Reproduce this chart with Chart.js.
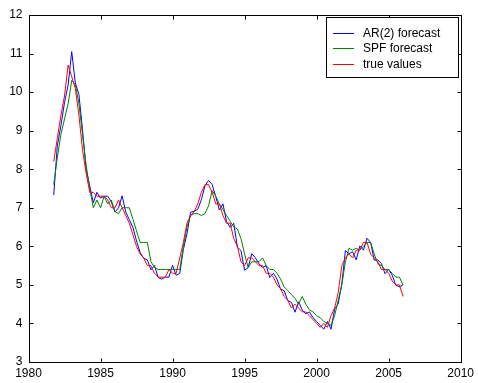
<!DOCTYPE html>
<html>
<head>
<meta charset="utf-8">
<script src="https://cdn.jsdelivr.net/npm/chart.js@4"></script>
<style>
  html, body { margin: 0; padding: 0; background: #fff; }
</style>
</head>
<body>
<canvas id="unempChart" width="478" height="383"></canvas>
<script>
// quarterly series, first point is 1981 Q4
const firstQuarter = 1981.75;

const trueValues = [
  8.2, 8.8, 9.4, 9.9, 10.7, 10.4, 10.1, 9.4, 8.5, 7.9, 7.4, 7.4, 7.3,
  7.3, 7.3, 7.2, 7.0, 7.0, 7.2, 7.0, 6.8, 6.6, 6.3, 6.0, 5.8,
  5.7, 5.5, 5.5, 5.3, 5.2, 5.2, 5.2, 5.4, 5.3, 5.3, 5.7, 6.1,
  6.6, 6.8, 6.9, 7.1, 7.4, 7.6, 7.6, 7.4, 7.1, 7.1, 6.8, 6.6,
  6.6, 6.2, 6.0, 5.6, 5.5, 5.7, 5.7, 5.6, 5.5, 5.5, 5.3, 5.3,
  5.2, 5.0, 4.9, 4.7, 4.6, 4.4, 4.5, 4.4, 4.3, 4.3, 4.2, 4.1,
  4.0, 3.9, 4.0, 3.9, 4.2, 4.4, 4.8, 5.5, 5.7, 5.8, 5.7, 5.9,
  5.9, 6.1, 6.1, 5.8, 5.7, 5.6, 5.4, 5.4, 5.3, 5.1, 5.0, 5.0, 4.7
];

const arForecast = [
  7.33, 8.6, 9.13, 9.73, 10.18, 11.05, 10.24, 9.94, 9.02, 8.0, 7.57, 7.13, 7.4,
  7.25, 7.3, 7.3, 7.15, 6.89, 7.0, 7.31, 6.89, 6.69, 6.49, 6.14, 5.84,
  5.69, 5.65, 5.39, 5.5, 5.19, 5.15, 5.2, 5.2, 5.51, 5.25, 5.3, 5.92,
  6.32, 6.88, 6.91, 6.96, 7.21, 7.57, 7.71, 7.6, 7.29, 6.94, 7.1, 6.64,
  6.49, 6.6, 5.98, 5.89, 5.38, 5.45, 5.81, 5.7, 5.55, 5.45, 5.5, 5.19,
  5.3, 5.15, 4.89, 4.85, 4.59, 4.55, 4.29, 4.56, 4.35, 4.25, 4.3, 4.15,
  4.05, 3.95, 3.85, 4.05, 3.85, 4.37, 4.51, 5.02, 5.89, 5.81, 5.86, 5.65,
  6.01, 5.9, 6.21, 6.1, 5.64, 5.65, 5.55, 5.29, 5.4, 5.25, 4.99, 4.95, 5.0
];

const spfForecast = [
  7.6, 8.3, 8.9, 9.3, 9.7, 10.3, 10.2, 9.7, 8.9, 8.1, 7.5, 7.0, 7.2,
  7.0, 7.3, 7.1, 7.2, 6.9, 6.85, 7.0, 7.0, 7.0, 6.7, 6.4, 6.1,
  6.1, 6.1, 5.6, 5.45, 5.4, 5.4, 5.4, 5.4, 5.4, 5.4, 5.4, 6.0,
  6.5, 6.8, 6.85, 6.85, 6.8, 6.85, 7.05, 7.45, 7.3, 7.1, 6.95, 6.8,
  6.65, 6.5, 6.45, 6.2, 5.8, 5.45, 5.6, 5.6, 5.6, 5.7, 5.5, 5.4,
  5.4, 5.3, 5.15, 4.95, 4.85, 4.75, 4.65, 4.5, 4.7, 4.5, 4.35, 4.3,
  4.2, 4.15, 4.05, 4.0, 3.95, 4.2, 4.6, 5.0, 5.6, 5.95, 5.9, 5.95,
  5.9, 6.0, 6.1, 6.1, 5.8, 5.55, 5.5, 5.4, 5.4, 5.3, 5.2, 5.2, 5.0
];

const xTickValues = [1980, 1985, 1990, 1995, 2000, 2005, 2010];
const yTickValues = [3, 4, 5, 6, 7, 8, 9, 10, 11, 12];

const seriesNames = ['AR(2) forecast', 'SPF forecast', 'true values'];
const seriesColors = ['#0000ff', '#008000', '#ff0000'];

function toPoints(vals) {
  return vals.map((v, i) => ({ x: firstQuarter + i / 4, y: v }));
}

const FAMILY = '"Liberation Sans", Arial, sans-serif';

// matlab style box, inward ticks and legend
const matlabAxes = {
  id: 'matlabAxes',
  afterDraw(chart) {
    const ctx = chart.ctx;
    const a = chart.chartArea;
    const L = Math.round(a.left) + 0.5, R = Math.round(a.right) + 0.5;
    const T = Math.round(a.top) + 0.5, B = Math.round(a.bottom) + 0.5;
    ctx.save();
    ctx.strokeStyle = '#000';
    ctx.lineWidth = 1;
    ctx.strokeRect(L, T, R - L, B - T);
    ctx.beginPath();
    chart.scales.x.ticks.forEach(t => {
      const px = Math.round(chart.scales.x.getPixelForValue(t.value)) + 0.5;
      ctx.moveTo(px, B); ctx.lineTo(px, B - 4);
      ctx.moveTo(px, T); ctx.lineTo(px, T + 4);
    });
    chart.scales.y.ticks.forEach(t => {
      const py = Math.round(chart.scales.y.getPixelForValue(t.value)) + 0.5;
      ctx.moveTo(L, py); ctx.lineTo(L + 4, py);
      ctx.moveTo(R, py); ctx.lineTo(R - 4, py);
    });
    ctx.stroke();

    // legend box, top right
    const lx = 326.5, ly = 17.5, lw = 132, lh = 60;
    ctx.fillStyle = '#fff';
    ctx.fillRect(lx, ly, lw, lh);
    ctx.strokeRect(lx, ly, lw, lh);
    ctx.font = '12px ' + FAMILY;
    ctx.textBaseline = 'middle';
    seriesNames.forEach((name, i) => {
      const y = Math.round(ly + 15 + i * 15.7) + 0.5;
      ctx.strokeStyle = seriesColors[i];
      ctx.beginPath();
      ctx.moveTo(333, y); ctx.lineTo(354, y);
      ctx.stroke();
      ctx.fillStyle = '#000';
      ctx.fillText(name, 363, y);
    });
    ctx.restore();
  }
};

const ctx = document.getElementById('unempChart');

new Chart(ctx, {
  type: 'line',
  data: {
    datasets: [
      { label: seriesNames[0], data: toPoints(arForecast), borderColor: seriesColors[0], order: 3 },
      { label: seriesNames[1], data: toPoints(spfForecast), borderColor: seriesColors[1], order: 2 },
      { label: seriesNames[2], data: toPoints(trueValues), borderColor: seriesColors[2], order: 1 }
    ]
  },
  options: {
    responsive: false,
    animation: false,
    datasets: {
      line: { borderWidth: 1, pointRadius: 0, tension: 0, fill: false }
    },
    layout: { padding: { top: 15, right: 13, left: 0, bottom: 0 } },
    plugins: {
      legend: { display: false },
      tooltip: { enabled: false }
    },
    scales: {
      x: {
        type: 'linear',
        min: 1980,
        max: 2010,
        afterBuildTicks: s => { s.ticks = xTickValues.map(v => ({ value: v })); },
        afterFit: s => { s.height = 21; },
        grid: { display: false, drawTicks: false },
        border: { display: false },
        ticks: {
          color: '#000',
          font: { family: FAMILY, size: 12 },
          padding: 4,
          maxRotation: 0,
          autoSkip: false,
          callback: v => String(v)
        }
      },
      y: {
        min: 3,
        max: 12,
        afterBuildTicks: s => { s.ticks = yTickValues.map(v => ({ value: v })); },
        afterFit: s => { s.width = 28.5; },
        grid: { display: false, drawTicks: false },
        border: { display: false },
        ticks: {
          color: '#000',
          font: { family: FAMILY, size: 12 },
          padding: 6,
          callback: v => String(v)
        }
      }
    }
  },
  plugins: [matlabAxes]
});
</script>
</body>
</html>
